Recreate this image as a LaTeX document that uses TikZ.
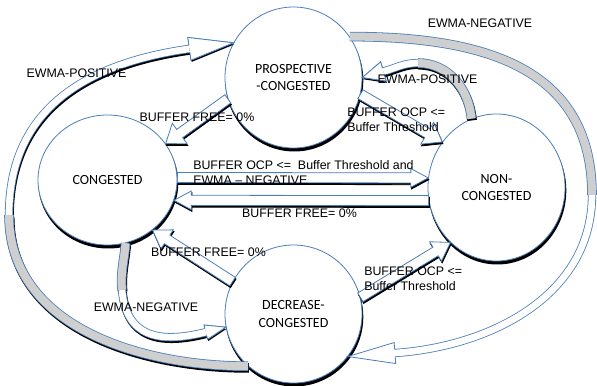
\documentclass[tikz,border=0pt]{standalone}
\usepackage{fontspec}
\setmainfont{Liberation Sans}
\newfontfamily\statefont{Carlito}
\usetikzlibrary{calc,shapes.geometric}

\definecolor{edgeblue}{HTML}{4A7EBB}
\definecolor{bandgray}{HTML}{CFCFCF}

\tikzset{
  stnode/.style={ellipse, draw=edgeblue, line width=0.6pt, fill=white, inner sep=0pt, align=center,
    font=\statefont\fontsize{10.5}{13}\selectfont},
  stshadow/.style={ellipse, fill=black, inner sep=0pt},
  lbl/.style={inner sep=0pt, align=left, font=\fontsize{9.3}{11.25}\selectfont},
  blockshadow/.style={fill=black, draw=black, line width=0.6pt, transform canvas={xshift=0.5pt, yshift=-1.3pt}},
  blockface/.style={fill=white, draw=edgeblue, line width=0.6pt},
  grayshadow/.style={draw=black, line width=7.2pt, transform canvas={xshift=0.5pt, yshift=-1.3pt}},
  whiteshadow/.style={draw=black, line width=6.2pt, transform canvas={xshift=0.5pt, yshift=-1.3pt}},
  grayband/.style={draw=edgeblue, line width=0.6pt, double=bandgray, double distance=6pt},
  whiteband/.style={draw=edgeblue, line width=0.6pt, double=white, double distance=5pt},
  headshadow/.style={fill=black, transform canvas={xshift=0.5pt, yshift=-1.3pt}},
  headfill/.style={fill=white},
  headline/.style={draw=edgeblue, line width=0.6pt},
}

% straight block arrow: [head half width]{from}{to}
\newcommand{\blockarrow}[3][9.5pt]{%
  \coordinate (neck) at ($(#3)!13pt!(#2)$);
  \foreach \sty in {blockshadow,blockface}
    \filldraw[\sty] ($(#2)!3.8pt!90:(#3)$) -- ($(neck)!3.8pt!90:(#3)$)
      -- ($(neck)!#1!90:(#3)$) -- (#3) -- ($(neck)!#1!-90:(#3)$)
      -- ($(neck)!3.8pt!-90:(#3)$) -- ($(#2)!3.8pt!-90:(#3)$) -- cycle;
}
% head of a curved band: {base}{tip}{head half}{band half}{fill style}{line style}
\newcommand{\bandhead}[6]{%
  \fill[#5] ($(#1)!#3!90:(#2)$) -- (#2) -- ($(#1)!#3!-90:(#2)$) -- cycle;
  \draw[#6] ($(#1)!#4!90:(#2)$) -- ($(#1)!#3!90:(#2)$) -- (#2)
    -- ($(#1)!#3!-90:(#2)$) -- ($(#1)!#4!-90:(#2)$);
}

\begin{document}
\begin{tikzpicture}[x=0.75pt,y=0.75pt]
\useasboundingbox (0,0) rectangle (597,386);
% shadows under the states
\node[stshadow, minimum width=103.5pt, minimum height=106.5pt] (pcs) at (294.3,305.5) {};
\node[stshadow, minimum width=105pt, minimum height=98.25pt] (cgs) at (108.3,203) {};
\node[stshadow, minimum width=103.5pt, minimum height=111pt] (ncs) at (497.3,195.5) {};
\node[stshadow, minimum width=103.5pt, minimum height=104.25pt] (dcs) at (294.3,69) {};
% states
\node[stnode, minimum width=102.75pt, minimum height=105.75pt] (pc) at (293.5,308.5) {PROSPECTIVE\\-CONGESTED};
\node[stnode, minimum width=104.25pt, minimum height=97.5pt] (cg) at (107.5,206) {CONGESTED};
\node[stnode, minimum width=102.75pt, minimum height=110.25pt] (nc) at (496.5,198.5) {NON-\\CONGESTED};
\node[stnode, minimum width=102.75pt, minimum height=103.5pt] (dc) at (293.5,72) {DECREASE-\\CONGESTED};

% straight transitions
\blockarrow{pc.198}{cg.32}
\blockarrow{pc.-14}{nc.140}
\blockarrow[7pt]{cg.2}{nc.172}
\blockarrow[7pt]{nc.191}{cg.-17}
\blockarrow[8.5pt]{dc.152}{cg.-48}
\blockarrow[8.5pt]{dc.14}{nc.230}

% bends and heads of the curved transitions
\coordinate (m1) at (9,171);
\coordinate (h1) at ($(pc.150)+(-44,-6)$);
\coordinate (r1) at (592,191);
\coordinate (h2) at ($(dc.-38)+(47,3.5)$);
\coordinate (m3) at (418,323);
\coordinate (h3) at ($(pc.0)+(21,6)$);
\coordinate (m4) at (122,96);
\coordinate (h4) at ($(dc.191)+(-20,-5)$);

% outer right arc
\draw[grayband] (pc.36) to[out=0, in=90, looseness=1.15] (r1);
\draw[whiteband] (r1) to[out=-90, in=4] (h2);
\bandhead{h2}{dc.-38}{7.9pt}{2.8pt}{headfill}{headline}

\foreach \gs/\ws/\hf in {grayshadow/whiteshadow/headshadow, grayband/whiteband/headfill} {
  % outer left arc
  \draw[\gs] (dc.229) to[out=180, in=-90] (m1);
  \draw[\ws] (m1) to[out=90, in=188, looseness=1.1] (h1);
  \bandhead{h1}{pc.150}{8.6pt}{2.8pt}{\hf}{headline}
  % non-congested back to prospective
  \draw[\gs] (nc.110) to[out=95, in=0] (m3);
  \draw[\ws] (m3) to[out=180, in=16] (h3);
  \bandhead{h3}{pc.0}{7.5pt}{2.8pt}{\hf}{headline}
  % congested down to decrease
  \draw[\gs] (cg.-74) to[out=-95, in=95] (m4);
  \draw[\ws] (m4) to[out=-85, in=194, looseness=1.3] (h4);
  \bandhead{h4}{dc.191}{5.5pt}{2.8pt}{\hf}{headline}
}

% labels
\node[lbl] (l1) at (480,363) {EWMA-NEGATIVE};
\node[lbl] (l2) at (76.5,313) {EWMA-POSITIVE};
\node[lbl] (l3) at (427.5,307) {EWMA-POSITIVE};
\node[lbl] (l4) at (197,269) {BUFFER FREE= 0\%};
\node[lbl, anchor=west] (l5) at (347,266.5) {BUFFER OCP <=\\Buffer Threshold};
\node[lbl, anchor=west] (l6) at (193,213.5) {BUFFER OCP <= \ Buffer Threshold and\\EWMA – NEGATIVE};
\node[lbl] (l7) at (299.5,173) {BUFFER FREE= 0\%};
\node[lbl] (l8) at (208.5,134) {BUFFER FREE= 0\%};
\node[lbl, anchor=west] (l9) at (364,107.5) {BUFFER OCP <=\\Buffer Threshold};
\node[lbl] (l10) at (146,79) {EWMA-NEGATIVE};
\end{tikzpicture}
\end{document}
